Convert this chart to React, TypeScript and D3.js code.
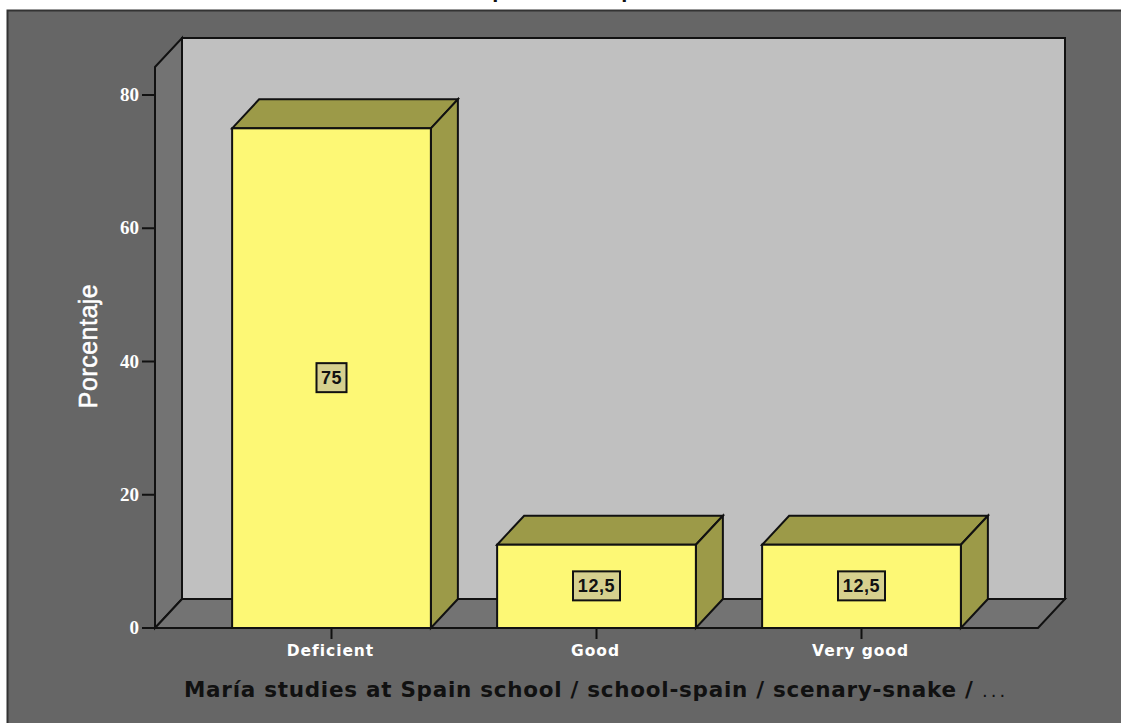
import React from "react";
import * as d3 from "d3";

const categories = ["Deficient", "Good", "Very good"];
const percentages = [75, 12.5, 12.5];
const valueLabels = ["75", "12,5", "12,5"];
const yTicks = [0, 20, 40, 60, 80];

const xAxisTitle = "María studies at Spain school / school-spain / scenary-snake /";
const yAxisTitle = "Porcentaje";

const W = 1121;
const H = 723;
const INK = "#111";
const DX = 27;
const DY = -29;
const yMaxValue = 84.2;

const y = d3.scaleLinear().domain([0, 80]).range([628, 95]);
const x = d3.scaleBand<string>().domain(categories).range([199, 994]).paddingInner(0.25).paddingOuter(0.125);
const closed = d3.line<[number, number]>().curve(d3.curveLinearClosed);

export default function App() {
  const left = 155;
  const right = 1038;
  const base = y(0);
  const top = y(yMaxValue);
  return (
    <svg width={W} height={H} style={{ position: "absolute", left: 0, top: 0, background: "#fff" }}>
      <rect x={7.5} y={10.5} width={W} height={H} fill="#666" stroke="#333" strokeWidth={2} />

      {/* Two cropped descenders of the heading along the top edge */}
      <g fontFamily="Liberation Sans" fontWeight="bold" fontSize={22} fill={INK} textAnchor="middle">
        <text x={499} y={-3}>p</text>
        <text x={628} y={-3}>p</text>
      </g>

      {/* Back wall, side wall and floor */}
      <path d={closed([[left + DX, top + DY], [right + DX, top + DY], [right + DX, base + DY], [left + DX, base + DY]])!} fill="#c0c0c0" stroke={INK} strokeWidth={2} />
      <path d={closed([[left, top], [left + DX, top + DY], [left + DX, base + DY], [left, base]])!} fill="#737373" stroke={INK} strokeWidth={2} />
      <path d={closed([[left, base], [right, base], [right + DX, base + DY], [left + DX, base + DY]])!} fill="#737373" stroke={INK} strokeWidth={2} />

      {/* Value axis */}
      {yTicks.map((t) => (
        <g key={t}>
          <line x1={left - 13} x2={left} y1={y(t)} y2={y(t)} stroke={INK} strokeWidth={2} />
          <text x={left - 16} y={y(t) + 6} textAnchor="end" fontFamily="Liberation Serif" fontWeight="bold" fontSize={19} fill="#fff">{t}</text>
        </g>
      ))}
      <text transform="translate(97,346) rotate(-90)" textAnchor="middle" fontFamily="Liberation Sans" fontSize={25} letterSpacing={0.5} fill="#fff" stroke="#fff" strokeWidth={0.5}>{yAxisTitle}</text>

      {/* Bars with their top and side faces */}
      {categories.map((c, i) => {
        const x0 = x(c)!;
        const x1 = x0 + x.bandwidth();
        const yv = y(percentages[i]);
        const cx = x0 + x.bandwidth() / 2;
        const cy = (yv + base) / 2;
        const bw = valueLabels[i].length > 2 ? 47 : 30;
        return (
          <g key={c}>
            <path d={closed([[x0, yv], [x0 + DX, yv + DY], [x1 + DX, yv + DY], [x1, yv]])!} fill="#9c9a48" stroke={INK} strokeWidth={2} />
            <path d={closed([[x1, yv], [x1 + DX, yv + DY], [x1 + DX, base + DY], [x1, base]])!} fill="#9c9a48" stroke={INK} strokeWidth={2} />
            <rect x={x0} y={yv} width={x1 - x0} height={base - yv} fill="#fdf875" stroke={INK} strokeWidth={2} />
            <rect x={cx - bw / 2} y={cy - 15} width={bw} height={29} fill="#d6d08e" stroke={INK} strokeWidth={2} />
            <text x={cx} y={cy + 6} textAnchor="middle" fontFamily="Liberation Sans" fontWeight="bold" fontSize={18} letterSpacing={0.6} fill={INK}>{valueLabels[i]}</text>
            <line x1={cx} x2={cx} y1={base} y2={base + 11} stroke={INK} strokeWidth={2} />
            <text x={cx - 1} y={656} textAnchor="middle" fontFamily="DejaVu Sans" fontWeight="bold" fontSize={15.5} letterSpacing={0.95} fill="#fff">{c}</text>
          </g>
        );
      })}

      <text x={184} y={697} fontFamily="DejaVu Sans" fontWeight="bold" fontSize={21.5} letterSpacing={0.72} fill={INK}>{xAxisTitle}</text>
      <text x={982} y={697} fontFamily="DejaVu Sans" fontSize={18} letterSpacing={3} fill={INK}>...</text>
    </svg>
  );
}
